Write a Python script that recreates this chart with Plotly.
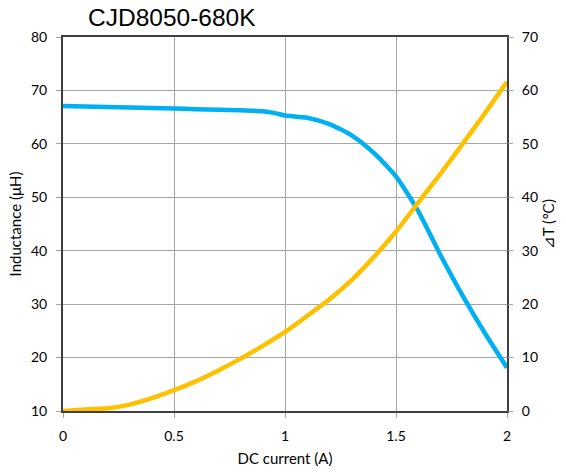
import plotly.graph_objects as go

current_a = [0.0, 0.1, 0.2, 0.3, 0.4, 0.5, 0.6, 0.7, 0.8, 0.9, 0.95, 1.0, 1.1, 1.2, 1.3, 1.4, 1.5, 1.6, 1.7, 1.8, 1.9, 2.0]
inductance_uh = [67.1, 67.0, 66.9, 66.8, 66.7, 66.6, 66.5, 66.4, 66.3, 66.1, 65.8, 65.3, 64.9, 63.7, 61.6, 58.3, 53.9, 47.4, 39.2, 31.6, 24.6, 18.1]
current_t = [0.0, 0.1, 0.2, 0.3, 0.4, 0.5, 0.6, 0.7, 0.8, 0.9, 1.0, 1.1, 1.2, 1.3, 1.4, 1.5, 1.6, 1.7, 1.8, 1.9, 2.0]
delta_t = [0.0, 0.3, 0.5, 1.2, 2.4, 3.9, 5.6, 7.6, 9.8, 12.2, 14.8, 17.8, 20.9, 24.5, 28.8, 33.6, 39.0, 44.4, 50.0, 55.7, 61.6]

x_ticks = [0, 0.5, 1, 1.5, 2]
x_ticklabels = ["0", "0.5", "1", "1.5", "2"]

BLUE = "#00B0F0"
ORANGE = "#FFC000"
GRID = "#A6A6A6"
AXIS = "#404040"
FONT = "Lato, Open Sans, sans-serif"
TICKFONT = dict(family=FONT, size=14, color="#000000")
TITLEFONT = dict(family=FONT, size=15, color="#000000")

fig = go.Figure()
fig.add_trace(go.Scatter(x=current_a, y=inductance_uh, mode="lines",
                         line=dict(color=BLUE, width=4.5, shape="spline", smoothing=0.6),
                         yaxis="y", showlegend=False, cliponaxis=False))
fig.add_trace(go.Scatter(x=current_t, y=delta_t, mode="lines",
                         line=dict(color=ORANGE, width=4.5, shape="spline", smoothing=0.6),
                         yaxis="y2", showlegend=False, cliponaxis=False))

fig.update_layout(
    width=566, height=472,
    margin=dict(l=63, r=59, t=37, b=61),
    paper_bgcolor="white", plot_bgcolor="white",
    title=dict(text="CJD8050-680K", x=88/566, xanchor="left", y=1-17/472, yanchor="middle",
               automargin=False,
               font=dict(family="Liberation Sans, Arial, sans-serif", size=24.5, color="#000000")),
    xaxis=dict(range=[0, 2], tickvals=x_ticks, ticktext=x_ticklabels, automargin=False,
               showgrid=True, gridcolor=GRID, gridwidth=1,
               showline=True, linecolor=AXIS, linewidth=2, mirror=True,
               ticks="outside", ticklen=5, tickcolor=GRID, ticklabelstandoff=6,
               tickfont=TICKFONT, zeroline=False,
               title=dict(text="DC current (A)", standoff=11, font=TITLEFONT)),
    yaxis=dict(range=[10, 80], dtick=10, automargin=False,
               showgrid=True, gridcolor=GRID, gridwidth=1,
               showline=True, linecolor=AXIS, linewidth=2, mirror=True,
               ticks="outside", ticklen=5, tickcolor=GRID, ticklabelstandoff=6,
               tickfont=TICKFONT, zeroline=False,
               title=dict(text="Inductance (μH)", standoff=6, font=TITLEFONT)),
    yaxis2=dict(range=[0, 70], dtick=10, overlaying="y", side="right", automargin=False,
                showgrid=False, showline=False,
                ticks="outside", ticklen=5, tickcolor=GRID, ticklabelstandoff=6,
                tickfont=TICKFONT, zeroline=False,
                title=dict(text="⊿T (℃)", standoff=6, font=TITLEFONT)),
)

fig.write_html("out.html", config={"displayModeBar": False},
               post_script="document.body.style.margin='0';document.body.style.overflow='hidden';")
